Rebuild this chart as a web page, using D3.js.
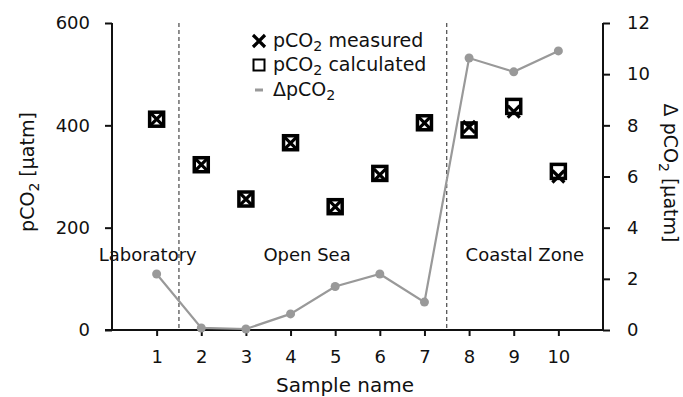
<!DOCTYPE html>
<html><head><meta charset="utf-8">
<script src="https://cdn.jsdelivr.net/npm/d3@7"></script>
<style>
body{margin:0;background:#fff;}
svg text{font-family:"DejaVu Sans",sans-serif;fill:#111;}
</style></head>
<body><svg id="c" width="683" height="397"></svg>
<script>
const samples = [1,2,3,4,5,6,7,8,9,10];
const measured = [412,323,256,365,241,303,405,397,427,300];
const calculated = [412,323,256,366,241,306,405,391,437,310];
const delta = [2.19,0.08,0.04,0.63,1.70,2.19,1.09,10.63,10.09,10.91];
const leftTicks = [0,200,400,600];
const rightTicks = [0,2,4,6,8,10,12];
const zones = [{name:"Laboratory",at:0.8},{name:"Open Sea",at:4.37},{name:"Coastal Zone",at:9.25}];
const dividers = [1.5,7.5];

const svg = d3.select("#c");
const L=112, R=603, T=23, B=330;
const x = d3.scaleLinear().domain([0,11]).range([L,R]);
const yL = d3.scaleLinear().domain([0,600]).range([B,T]);
const yR = d3.scaleLinear().domain([0,12]).range([B,T]);
const fs = 18;

// axes
const gx = svg.append("g").attr("transform",`translate(0,${B})`)
  .call(d3.axisBottom(x).tickValues(samples).tickSize(6).tickPadding(14).tickFormat(d3.format("d")));
const gl = svg.append("g").attr("transform",`translate(${L},0)`)
  .call(d3.axisLeft(yL).tickValues(leftTicks).tickSize(7).tickPadding(15));
const gr = svg.append("g").attr("transform",`translate(${R},0)`)
  .call(d3.axisRight(yR).tickValues(rightTicks).tickSize(7).tickPadding(17));
[gx,gl,gr].forEach(g=>{
  g.selectAll("path.domain").attr("stroke","#111").attr("stroke-width",2);
  g.selectAll(".tick line").attr("stroke","#111").attr("stroke-width",2);
  g.selectAll(".tick text").attr("font-size",fs).attr("font-family","DejaVu Sans").attr("fill","#111");
});
gx.select("path.domain").attr("d",`M${L-7},0H${R+0}`);
gl.select("path.domain").attr("d",`M0,${T}V${B}`);
gr.select("path.domain").attr("d",`M0,${T}V${B}`);

// dividers
svg.selectAll("line.div").data(dividers).join("line")
  .attr("x1",d=>x(d)).attr("x2",d=>x(d)).attr("y1",T).attr("y2",B)
  .attr("stroke","#222").attr("stroke-width",1).attr("stroke-dasharray","4,3");

// zone labels
svg.selectAll("text.zone").data(zones).join("text")
  .attr("x",d=>x(d.at)).attr("y",261).attr("text-anchor","middle").attr("font-size",18).text(d=>d.name);

// delta line
const line = d3.line().x((d,i)=>x(samples[i])).y(d=>yR(d));
svg.append("path").datum(delta).attr("d",line).attr("fill","none")
  .attr("stroke","#999").attr("stroke-width",2.2);
svg.selectAll("circle.dl").data(delta).join("circle")
  .attr("cx",(d,i)=>x(samples[i])).attr("cy",d=>yR(d)).attr("r",4.5).attr("fill","#999");

// calculated squares
const s=7;
svg.selectAll("rect.calc").data(calculated).join("rect")
  .attr("x",(d,i)=>x(samples[i])-s).attr("y",d=>yL(d)-s).attr("width",2*s).attr("height",2*s)
  .attr("fill","none").attr("stroke","#000").attr("stroke-width",3.5);
// measured crosses
const c=6;
svg.selectAll("path.meas").data(measured).join("path")
  .attr("d",(d,i)=>{const cx=x(samples[i]),cy=yL(d);return `M${cx-c},${cy-c}L${cx+c},${cy+c}M${cx-c},${cy+c}L${cx+c},${cy-c}`;})
  .attr("stroke","#000").attr("stroke-width",3.2).attr("fill","none");

// legend
const lx=259, tx=273;
const lg = svg.append("g");
lg.append("path").attr("d",`M${lx-6},${35}L${lx+6},${47}M${lx-6},${47}L${lx+6},${35}`).attr("stroke","#000").attr("stroke-width",3.2);
lg.append("rect").attr("x",lx-5.5).attr("y",59.5).attr("width",11).attr("height",11).attr("fill","none").attr("stroke","#000").attr("stroke-width",2);
lg.append("line").attr("x1",lx-4).attr("x2",lx+4).attr("y1",90).attr("y2",90).attr("stroke","#999").attr("stroke-width",3);
function sub(t, pre, post, xx, yy, size){
  const te = t.append("text").attr("x",xx).attr("y",yy).attr("font-size",size);
  te.append("tspan").text(pre);
  te.append("tspan").attr("font-size",size*0.75).attr("dy",size*0.22).text("2");
  if(post) te.append("tspan").attr("dy",-size*0.22).text(post);
  return te;
}
sub(lg,"pCO"," measured",tx,47,19);
sub(lg,"pCO"," calculated",tx,71,19);
sub(lg,"ΔpCO","",tx,96,19);

// axis titles
const lt = svg.append("text").attr("transform","translate(34,172) rotate(-90)").attr("text-anchor","middle").attr("font-size",19);
lt.append("tspan").text("pCO");
lt.append("tspan").attr("font-size",14).attr("dy",5).text("2");
lt.append("tspan").attr("dy",-5).text(" [µatm]");
const rt = svg.append("text").attr("transform","translate(664,173) rotate(90)").attr("text-anchor","middle").attr("font-size",19);
rt.append("tspan").text("Δ pCO");
rt.append("tspan").attr("font-size",14).attr("dy",5).text("2");
rt.append("tspan").attr("dy",-5).text(" [µatm]");

svg.append("text").attr("x",345).attr("y",392).attr("text-anchor","middle").attr("font-size",20).text("Sample name");
</script></body></html>
